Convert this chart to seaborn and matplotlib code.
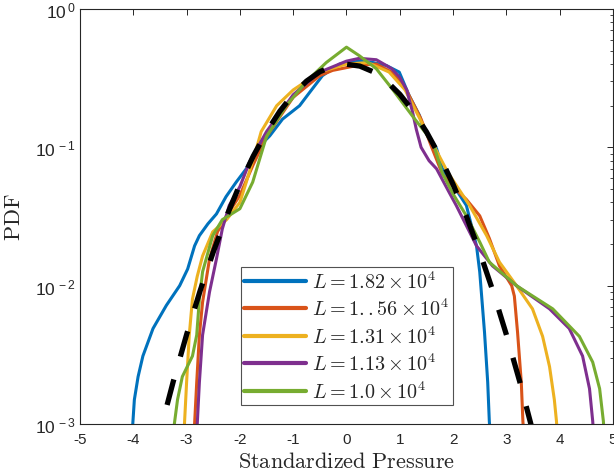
import numpy as np
import pandas as pd
import seaborn as sns
import matplotlib.pyplot as plt
from matplotlib.ticker import FuncFormatter, LogLocator, NullLocator, FixedLocator
from matplotlib.font_manager import FontProperties

# curves (x = standardized pressure, y = PDF)
blue_x = [-4.03, -4.01, -3.98, -3.91, -3.82, -3.63, -3.38, -3.13, -2.98, -2.85, -2.76, -2.60, -2.44, -2.26, -2.07,
          -1.88, -1.69, -1.44, -1.2, -0.88, -0.69, -0.45, -0.13, 0.24, 0.5, 0.75, 0.99, 1.18, 1.37, 1.43, 1.69,
          1.80, 2.05, 2.25, 2.44, 2.50, 2.59, 2.65, 2.68, 2.70]
blue_y = [0.0008, 0.0010, 0.0015, 0.0022, 0.0031, 0.0049, 0.0072, 0.010, 0.0132, 0.0194, 0.023, 0.028, 0.033, 0.044,
          0.056, 0.070, 0.097, 0.121, 0.16, 0.20, 0.25, 0.33, 0.40, 0.42, 0.41, 0.39, 0.35, 0.235, 0.17, 0.143,
          0.098, 0.070, 0.050, 0.038, 0.0194, 0.0126, 0.0046, 0.0020, 0.00105, 0.0008]

orange_x = [-2.87, -2.85, -2.81, -2.76, -2.70, -2.57, -2.42, -2.25, -2.0, -1.75, -1.5, -1.0, -0.5, -0.26, 0.19,
            0.56, 0.85, 1.1, 1.4, 1.6, 1.80, 2.0, 2.25, 2.50, 2.68, 2.87, 3.1, 3.15, 3.21, 3.28, 3.31, 3.33]
orange_y = [0.0008, 0.0010, 0.0020, 0.0044, 0.0076, 0.0156, 0.0245, 0.032, 0.045, 0.075, 0.12, 0.23, 0.33, 0.36, 0.39,
            0.40, 0.35, 0.27, 0.16, 0.10, 0.064, 0.052, 0.042, 0.032, 0.022, 0.0139, 0.010, 0.0084, 0.0046, 0.0020,
            0.00105, 0.0008]

yellow_x = [-3.06, -3.04, -3.0, -2.95, -2.89, -2.80, -2.70, -2.51, -2.25, -2.0, -1.88, -1.7, -1.6, -1.31, -1.0,
            -0.5, 0.0, 0.4, 0.8, 1.1, 1.5, 1.9, 2.31, 2.63, 2.87, 3.19, 3.49, 3.68, 3.81, 3.90, 3.94, 3.96]
yellow_y = [0.0008, 0.0010, 0.0020, 0.0044, 0.0080, 0.0117, 0.0164, 0.0245, 0.030, 0.040, 0.056, 0.095, 0.13, 0.20,
            0.26, 0.35, 0.40, 0.41, 0.35, 0.26, 0.13, 0.066, 0.038, 0.023, 0.0148, 0.010, 0.0068, 0.0043, 0.0026,
            0.0015, 0.00105, 0.0008]

purple_x = [-2.82, -2.80, -2.76, -2.70, -2.57, -2.44, -2.33, -2.20, -2.0, -1.82, -1.5, -1.0, -0.5, 0.0, 0.24,
            0.56, 0.75, 0.85, 1.0, 1.13, 1.24, 1.31, 1.4, 1.55, 1.69, 1.93, 2.06, 2.44, 2.74, 3.19, 3.81, 4.18,
            4.43, 4.56, 4.62, 4.64]
purple_y = [0.0008, 0.0010, 0.0020, 0.0044, 0.0090, 0.0156, 0.0257, 0.038, 0.052, 0.078, 0.13, 0.24, 0.35, 0.42, 0.44,
            0.43, 0.39, 0.37, 0.32, 0.26, 0.18, 0.135, 0.10, 0.08, 0.070, 0.047, 0.038, 0.0194, 0.0139, 0.010,
            0.0068, 0.0049, 0.0031, 0.0018, 0.00105, 0.0008]

green_x = [-3.25, -3.23, -3.17, -3.08, -2.89, -2.81, -2.76, -2.70, -2.51, -2.33, -2.0, -1.76, -1.63, -1.50, -1.13,
           -0.75, -0.38, 0.0, 0.24, 0.56, 0.86, 1.24, 1.5, 1.65, 1.80, 2.0, 2.25, 2.50, 2.68, 3.19, 3.87, 4.37,
           4.62, 4.75, 4.82, 4.84]
green_y = [0.0008, 0.0010, 0.0015, 0.0022, 0.0031, 0.0044, 0.0080, 0.0126, 0.023, 0.030, 0.036, 0.056, 0.082, 0.12,
           0.20, 0.30, 0.41, 0.53, 0.46, 0.37, 0.264, 0.168, 0.125, 0.10, 0.065, 0.046, 0.032, 0.0207, 0.0148,
           0.010, 0.0068, 0.0043, 0.0028, 0.0018, 0.00105, 0.0008]

# black dashed reference curve
gauss_x = [-3.6, -3.5, -3.25, -3.0, -2.75, -2.5, -2.25, -2.0, -1.75, -1.5, -1.25, -1.0, -0.75, -0.5, -0.25, 0.0,
           0.25, 0.5, 0.75, 1.0, 1.25, 1.5, 1.75, 2.0, 2.25, 2.5, 2.75, 3.0, 3.25, 3.5, 3.6]
gauss_y = [0.000612, 0.000873, 0.00203, 0.00443, 0.00909, 0.0175, 0.0317, 0.0540, 0.0863, 0.1295, 0.1826, 0.2420,
           0.3011, 0.3521, 0.3867, 0.3989, 0.3867, 0.3521, 0.3011, 0.2420, 0.1826, 0.1295, 0.0863, 0.0540, 0.0317,
           0.0175, 0.00909, 0.00443, 0.00203, 0.000873, 0.000612]

labels = [r'$L = 1.82 \times 10^4$', r'$L = 1..56 \times 10^4$', r'$L = 1.31 \times 10^4$',
          r'$L = 1.13 \times 10^4$', r'$L = 1.0 \times 10^4$']
colors = ['#0072BD', '#D95319', '#EDB120', '#7E2F8E', '#77AC30']
series = [(blue_x, blue_y), (orange_x, orange_y), (yellow_x, yellow_y), (purple_x, purple_y), (green_x, green_y)]

sns.set_style('white')
plt.rcParams['font.family'] = ['Liberation Sans', 'DejaVu Sans']
plt.rcParams['mathtext.fontset'] = 'custom'
plt.rcParams['mathtext.rm'] = 'Liberation Sans'
plt.rcParams['mathtext.it'] = 'Liberation Sans:italic'
plt.rcParams['axes.unicode_minus'] = False

fig = plt.figure(figsize=(6.14, 4.77), dpi=100)
ax = fig.add_axes([0.1303, 0.109, 0.868, 0.870])

for (xs, ys), c, lab in zip(series, colors, labels):
    df = pd.DataFrame({'x': xs, 'y': ys})
    sns.lineplot(data=df, x='x', y='y', color=c, lw=2.2, label=lab, sort=False, estimator=None, ax=ax)

gdf = pd.DataFrame({'x': gauss_x, 'y': gauss_y})
sns.lineplot(data=gdf, x='x', y='y', color='black', lw=3.8, ax=ax, sort=False, estimator=None,
             legend=False)
ax.lines[-1].set_dashes((5, 4.5))

ax.set_yscale('log')
ax.set_xlim(-5, 5)
ax.set_ylim(1e-3, 1)
ax.xaxis.set_major_locator(FixedLocator(range(-5, 6)))
ax.xaxis.set_minor_locator(NullLocator())
ax.yaxis.set_major_locator(LogLocator(base=10, numticks=10))
ax.yaxis.set_minor_locator(LogLocator(base=10, subs=np.arange(2, 10), numticks=20))
ax.yaxis.set_major_formatter(FuncFormatter(lambda v, p: r'$10^{\,%d}$' % round(np.log10(v))))

ax.tick_params(which='both', direction='in', top=True, right=True, colors='#262626', labelsize=11)
ax.tick_params(axis='y', labelsize=12.5)
ax.tick_params(which='major', length=4, width=0.7)
ax.tick_params(which='minor', length=2.5, width=0.6)
ax.tick_params(axis='x', pad=6)
ax.tick_params(axis='y', pad=3)
for s in ax.spines.values():
    s.set_color('#262626')
    s.set_linewidth(0.8)

ax.set_xlabel(r'$\mathrm{Standardized\ Pressure}$', fontsize=16, math_fontfamily='cm', labelpad=3)
ax.set_ylabel(r'$\mathrm{PDF}$', fontsize=16, math_fontfamily='cm')
ax.yaxis.set_label_coords(-0.103, 0.5)

leg = ax.legend(loc='upper left', bbox_to_anchor=(0.302, 0.378), prop=FontProperties(size=14.5, math_fontfamily='cm'),
                frameon=True, fancybox=False, edgecolor='#262626', handlelength=3.1, handletextpad=0.3,
                labelspacing=0.3, borderpad=0.15, borderaxespad=0)
leg.get_frame().set_linewidth(0.8)
for h in leg.get_lines():
    h.set_linewidth(3)

fig.savefig('out.png', dpi=100)
